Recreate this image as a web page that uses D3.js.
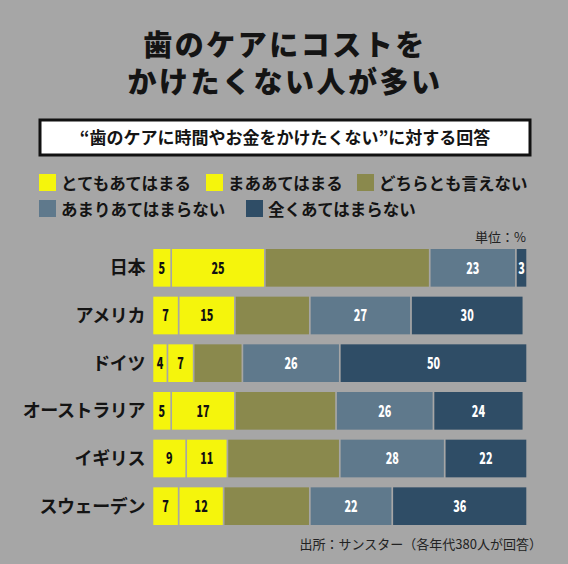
<!DOCTYPE html>
<html>
<head>
<meta charset="utf-8">
<script src="https://cdn.jsdelivr.net/npm/d3@7"></script>
<style>
  body { margin: 0; background: #a6a6a6; }
  svg { display: block; }
  text { font-family: "Noto Sans CJK JP", sans-serif; }
</style>
</head>
<body>
<svg id="chart" width="568" height="564"></svg>
<script>
// countries, top to bottom
var countries = ["日本", "アメリカ", "ドイツ", "オーストラリア", "イギリス", "スウェーデン"];
// answer categories (legend order)
var categories = ["とてもあてはまる", "まああてはまる", "どちらとも言えない", "あまりあてはまらない", "全くあてはまらない"];
// values in % per category, same order as countries
var veryMuch = [5, 7, 4, 5, 9, 7];
var somewhat = [25, 15, 7, 17, 11, 12];
var neutral  = [44, 20, 13, 27, 30, 23];
var notMuch  = [23, 27, 26, 26, 28, 22];
var notAtAll = [3, 30, 50, 24, 22, 36];

var titleLines = ["歯のケアにコストを", "かけたくない人が多い"];
var subtitle = "“歯のケアに時間やお金をかけたくない”に対する回答";
var unitText = "単位：%";
var sourceText = "出所：サンスター（各年代380人が回答）";

function init() {
  var svg = d3.select("#chart");
  var W = 568, H = 564;

  var colors = ["#f5f50c", "#f5f50c", "#8a894d", "#5f798c", "#2f4d66"];
  var labelColors = ["#111", "#111", null, "#fff", "#fff"]; // neutral not labelled
  var series = [veryMuch, somewhat, neutral, notMuch, notAtAll];

  svg.append("rect").attr("width", W).attr("height", H).attr("fill", "#a6a6a6");

  // Title (one text, two lines)
  svg.append("text")
     .attr("text-anchor", "middle")
     .attr("font-size", 29)
     .attr("font-weight", 900)
     .attr("letter-spacing", 2.5)
     .attr("fill", "#141414")
     .selectAll("tspan")
     .data(titleLines)
     .enter()
     .append("tspan")
     .attr("x", 285)
     .attr("y", function(d, i) { return 56 + i * 37; })
     .text(function(d) { return d; });

  // Subtitle box
  svg.append("rect")
     .attr("x", 40).attr("y", 120)
     .attr("width", 490).attr("height", 35)
     .attr("fill", "#fff")
     .attr("stroke", "#111")
     .attr("stroke-width", 3);
  svg.append("text")
     .attr("x", 285).attr("y", 144)
     .attr("text-anchor", "middle")
     .attr("font-size", 17)
     .attr("font-weight", 700)
     .attr("fill", "#141414")
     .text(subtitle);

  // Legend
  var legendPos = [[39, 174], [206, 174], [357, 174], [39, 200], [246, 200]];
  var legend = svg.selectAll(".legend")
     .data(categories)
     .enter()
     .append("g")
     .attr("class", "legend")
     .attr("transform", function(d, i) { return "translate(" + legendPos[i][0] + "," + legendPos[i][1] + ")"; });
  legend.append("rect")
     .attr("width", 17).attr("height", 17)
     .attr("fill", function(d, i) { return colors[i]; });
  legend.append("text")
     .attr("x", 22).attr("y", 15.5)
     .attr("font-size", 16.5)
     .attr("font-weight", 700)
     .attr("fill", "#141414")
     .text(function(d) { return d; });

  // Unit
  svg.append("text")
     .attr("x", 526).attr("y", 242)
     .attr("text-anchor", "end")
     .attr("font-size", 13)
     .attr("fill", "#222")
     .text(unitText);

  // Scales
  var x = d3.scaleLinear().domain([0, 100]).range([153.3, 528]);
  var y = d3.scaleBand().domain(countries).range([249, 525]).paddingInner(0.21).paddingOuter(0);

  // stack the series per country
  var rows = countries.map(function(c, i) {
    var acc = 0;
    return series.map(function(s, k) {
      var seg = { country: c, k: k, v: s[i], x0: acc, x1: acc + s[i] };
      acc += s[i];
      return seg;
    });
  });

  // Country labels
  svg.selectAll(".country")
     .data(countries)
     .enter()
     .append("text")
     .attr("class", "country")
     .attr("x", 145)
     .attr("y", function(d) { return y(d) + y.bandwidth() / 2; })
     .attr("dy", "0.36em")
     .attr("text-anchor", "end")
     .attr("font-size", 18)
     .attr("font-weight", 700)
     .attr("letter-spacing", -0.4)
     .attr("fill", "#141414")
     .text(function(d) { return d; });

  // Bars
  var bars = svg.selectAll(".row")
     .data(rows)
     .enter()
     .append("g")
     .attr("class", "row");
  bars.selectAll("rect")
     .data(function(d) { return d; })
     .enter()
     .append("rect")
     .attr("x", function(d) { return x(d.x0); })
     .attr("y", function(d) { return y(d.country); })
     .attr("width", function(d) { return Math.max(0, x(d.x1) - x(d.x0) - 1.7); })
     .attr("height", y.bandwidth())
     .attr("fill", function(d) { return colors[d.k]; });
  // value labels, squeezed to look condensed
  bars.selectAll(".val")
     .data(function(d) { return d.filter(function(s) { return labelColors[s.k]; }); })
     .enter()
     .append("text")
     .attr("class", "val")
     .attr("transform", function(d) {
       var cx = (x(d.x0) + x(d.x1) - 1.7) / 2;
       var cy = y(d.country) + y.bandwidth() / 2;
       return "translate(" + cx + "," + cy + ") scale(0.72,1.05)";
     })
     .attr("dy", "0.36em")
     .attr("text-anchor", "middle")
     .attr("font-size", 15)
     .attr("font-weight", 900)
     .attr("fill", function(d) { return labelColors[d.k]; })
     .text(function(d) { return d.v; });

  // Source
  svg.append("text")
     .attr("x", 542).attr("y", 549)
     .attr("text-anchor", "end")
     .attr("font-size", 13)
     .attr("fill", "#222")
     .text(sourceText);
}

init();
</script>
</body>
</html>
